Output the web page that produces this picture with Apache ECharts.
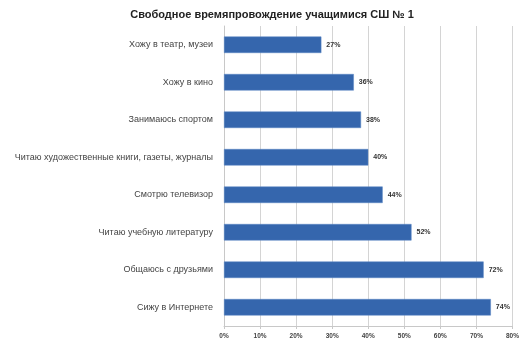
<!DOCTYPE html>
<html><head><meta charset="utf-8">
<script src="https://cdn.jsdelivr.net/npm/echarts@6/dist/echarts.min.js"></script>
<style>html,body{margin:0;padding:0;background:#fff}#c{width:522px;height:350px}</style>
</head><body><div id="c"></div>
<script>
const titleText = 'Свободное времяпровождение учащимися СШ № 1';
const categories = [
  'Сижу в Интернете',
  'Общаюсь с друзьями',
  'Читаю учебную литературу',
  'Смотрю телевизор',
  'Читаю художественные книги, газеты, журналы',
  'Занимаюсь спортом',
  'Хожу в кино',
  'Хожу в театр, музеи'
];
const values = [74, 72, 52, 44, 40, 38, 36, 27];
const xTicks = [0, 10, 20, 30, 40, 50, 60, 70, 80];

const chart = echarts.init(document.getElementById('c'), null, {renderer: 'canvas'});
chart.setOption({
  animation: false,
  title: {
    text: titleText, left: 267, top: 4, textAlign: 'center',
    textStyle: {fontFamily: 'Liberation Sans', fontSize: 11, fontWeight: 'bold', color: '#222'}
  },
  grid: {left: 224, right: 7, top: 26, bottom: 24, containLabel: false},
  xAxis: {
    type: 'value', min: xTicks[0], max: xTicks[xTicks.length - 1], interval: 10,
    axisLabel: {formatter: v => v + '%', fontSize: 6.5, fontWeight: 'bold', color: '#444', fontFamily: 'Liberation Sans', margin: 7},
    splitLine: {show: true, lineStyle: {color: '#d4d4d4', width: 1}},
    axisLine: {show: true, lineStyle: {color: '#c8c8c8'}},
    axisTick: {show: true, length: 3, lineStyle: {color: '#c8c8c8'}}
  },
  yAxis: {
    type: 'category', data: categories,
    axisLabel: {fontSize: 9, color: '#444', fontFamily: 'Liberation Sans', margin: 11},
    axisLine: {show: true, lineStyle: {color: '#c8c8c8'}},
    axisTick: {show: false}
  },
  series: [{
    type: 'bar', data: values, barWidth: '44%',
    itemStyle: {color: '#3566ad', borderColor: '#5a86c4', borderWidth: 0.5},
    label: {show: true, position: 'right', formatter: p => p.value + '%', fontSize: 7, fontWeight: 'bold', color: '#333', fontFamily: 'Liberation Sans', distance: 5}
  }]
});
</script></body></html>
